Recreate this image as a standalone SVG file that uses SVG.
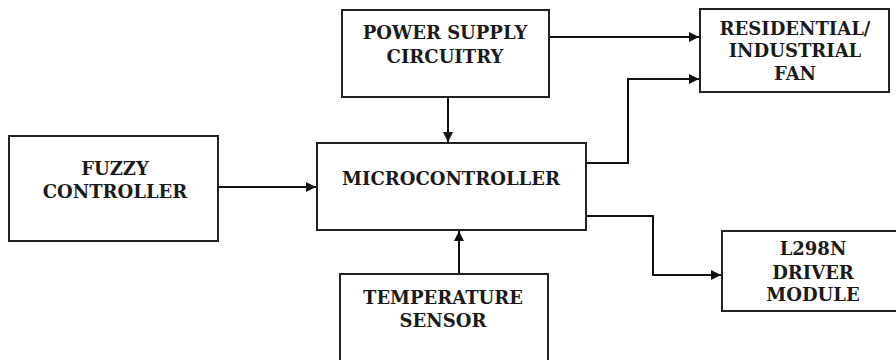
<svg xmlns="http://www.w3.org/2000/svg" width="896" height="360" viewBox="0 0 896 360">
<style>
.box{fill:#fff;stroke:#222;stroke-width:2}
.t{font-family:"DejaVu Serif","Liberation Serif",serif;font-weight:bold;font-size:18px;fill:#1a1a1a;text-anchor:middle}
.c{fill:none;stroke:#111;stroke-width:2}
</style>
<defs>
<marker id="ah" viewBox="0 0 10 10" refX="10" refY="5" markerWidth="10" markerHeight="10" markerUnits="userSpaceOnUse" orient="auto">
<path d="M0,0 L10,5 L0,10 z" fill="#111"/>
</marker>
</defs>
<rect width="896" height="360" fill="#fff"/>
<g id="connectors">
<path class="c" d="M549,37 H699" marker-end="url(#ah)"/>
<path class="c" d="M586,163 H628 V79 H699" marker-end="url(#ah)"/>
<path class="c" d="M586,216 H653 V275 H721" marker-end="url(#ah)"/>
<path class="c" d="M448,97 V142" marker-end="url(#ah)"/>
<path class="c" d="M218,187 H316" marker-end="url(#ah)"/>
<path class="c" d="M459,274 V231" marker-end="url(#ah)"/>
</g>
<g id="power">
<rect class="box" x="342" y="10" width="207" height="87"/>
<text class="t" x="445" y="39">POWER SUPPLY</text>
<text class="t" x="445" y="63">CIRCUITRY</text>
</g>
<g id="fan">
<rect class="box" x="700" y="9" width="189" height="83"/>
<text class="t" x="795" y="35">RESIDENTIAL/</text>
<text class="t" x="795" y="57">INDUSTRIAL</text>
<text class="t" x="795" y="80">FAN</text>
</g>
<g id="fuzzy">
<rect class="box" x="9" y="136" width="209" height="105"/>
<text class="t" x="115" y="175">FUZZY</text>
<text class="t" x="115" y="198">CONTROLLER</text>
</g>
<g id="micro">
<rect class="box" x="317" y="143" width="269" height="87"/>
<text class="t" x="451" y="185">MICROCONTROLLER</text>
</g>
<g id="driver">
<rect class="box" x="722" y="231" width="180" height="80"/>
<text class="t" x="813" y="255">L298N</text>
<text class="t" x="813" y="279">DRIVER</text>
<text class="t" x="813" y="301">MODULE</text>
</g>
<g id="sensor">
<rect class="box" x="340" y="274" width="208" height="100"/>
<text class="t" x="443" y="304">TEMPERATURE</text>
<text class="t" x="443" y="327">SENSOR</text>
</g>
</svg>
